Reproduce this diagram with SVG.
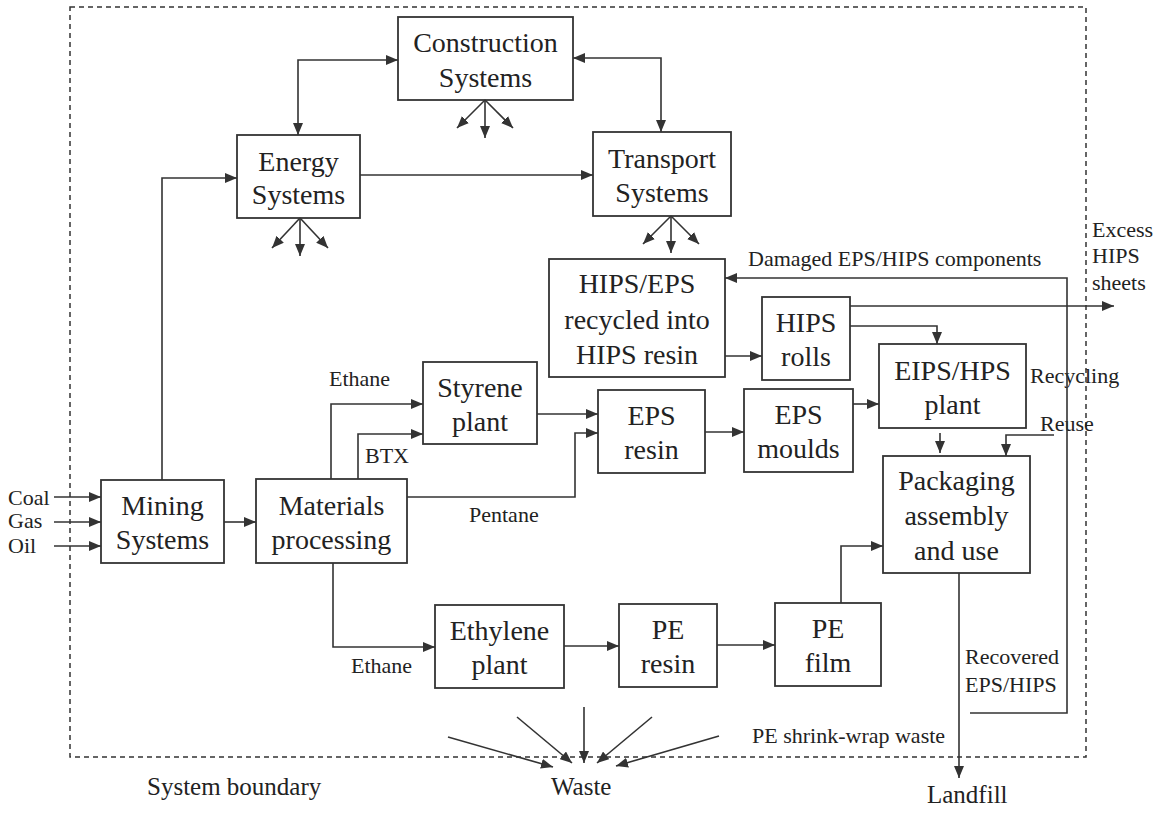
<svg xmlns="http://www.w3.org/2000/svg" width="1167" height="822" viewBox="0 0 1167 822">
<style>
.box{fill:none;stroke:#333;stroke-width:1.8}
.n{font-family:"Liberation Serif","Times New Roman",serif;font-size:28px;fill:#222;text-anchor:middle}
.l{font-family:"Liberation Serif","Times New Roman",serif;font-size:22px;fill:#222}
.b{font-family:"Liberation Serif","Times New Roman",serif;font-size:25px;fill:#222}
.c{fill:none;stroke:#333;stroke-width:1.6}
.a{marker-end:url(#ah)}
.d{marker-start:url(#ah);marker-end:url(#ah)}
</style>
<defs>
<marker id="ah" viewBox="0 0 12 10" refX="12" refY="5" markerWidth="12" markerHeight="10" markerUnits="userSpaceOnUse" orient="auto-start-reverse"><path d="M0,0 L12,5 L0,10 z" fill="#333"/></marker>
</defs>
<rect width="1167" height="822" fill="#fff"/>
<g id="boundary">
<rect x="70" y="7" width="1016" height="750" fill="none" stroke="#333" stroke-width="1.5" stroke-dasharray="5,4"/>
<text class="b" x="147" y="795">System boundary</text>
</g>
<g id="construction"><rect class="box" x="398" y="17" width="175" height="83"/><text class="n" x="485.5" y="52">Construction</text><text class="n" x="485.5" y="87">Systems</text></g>
<g id="energy"><rect class="box" x="237" y="135" width="123" height="83"/><text class="n" x="298.5" y="171">Energy</text><text class="n" x="298.5" y="204">Systems</text></g>
<g id="transport"><rect class="box" x="593" y="132" width="138" height="84"/><text class="n" x="662" y="168">Transport</text><text class="n" x="662" y="202">Systems</text></g>
<g id="hipseps"><rect class="box" x="549" y="259" width="176" height="118"/><text class="n" x="637" y="293">HIPS/EPS</text><text class="n" x="637" y="329">recycled into</text><text class="n" x="637" y="364">HIPS resin</text></g>
<g id="hipsrolls"><rect class="box" x="762" y="297" width="88" height="83"/><text class="n" x="806" y="332">HIPS</text><text class="n" x="806" y="366">rolls</text></g>
<g id="eipsplant"><rect class="box" x="879" y="344" width="147" height="84"/><text class="n" x="952.5" y="380">EIPS/HPS</text><text class="n" x="952.5" y="414">plant</text></g>
<g id="styrene"><rect class="box" x="423" y="362" width="114" height="82"/><text class="n" x="480" y="397">Styrene</text><text class="n" x="480" y="431">plant</text></g>
<g id="epsresin"><rect class="box" x="598" y="390" width="107" height="83"/><text class="n" x="651.5" y="425">EPS</text><text class="n" x="651.5" y="459">resin</text></g>
<g id="epsmoulds"><rect class="box" x="744" y="389" width="109" height="83"/><text class="n" x="798.5" y="424">EPS</text><text class="n" x="798.5" y="458">moulds</text></g>
<g id="packaging"><rect class="box" x="883" y="456" width="147" height="117"/><text class="n" x="956.5" y="490">Packaging</text><text class="n" x="956.5" y="525">assembly</text><text class="n" x="956.5" y="560">and use</text></g>
<g id="mining"><rect class="box" x="101" y="480" width="123" height="83"/><text class="n" x="162.5" y="515">Mining</text><text class="n" x="162.5" y="549">Systems</text></g>
<g id="materials"><rect class="box" x="256" y="479" width="151" height="84"/><text class="n" x="331.5" y="515">Materials</text><text class="n" x="331.5" y="549">processing</text></g>
<g id="ethylene"><rect class="box" x="435" y="605" width="129" height="83"/><text class="n" x="499.5" y="640">Ethylene</text><text class="n" x="499.5" y="674">plant</text></g>
<g id="peresin"><rect class="box" x="619" y="604" width="98" height="83"/><text class="n" x="668" y="639">PE</text><text class="n" x="668" y="673">resin</text></g>
<g id="pefilm"><rect class="box" x="775" y="603" width="106" height="83"/><text class="n" x="828" y="638">PE</text><text class="n" x="828" y="672">film</text></g>
<g id="labels">
<text class="l" x="8" y="505">Coal</text>
<text class="l" x="8" y="528">Gas</text>
<text class="l" x="8" y="553">Oil</text>
<text class="l" x="329" y="386">Ethane</text>
<text class="l" x="365" y="463">BTX</text>
<text class="l" x="469" y="522">Pentane</text>
<text class="l" x="351" y="673">Ethane</text>
<text class="l" x="748" y="266">Damaged EPS/HIPS components</text>
<text class="l" x="1092" y="237">Excess</text>
<text class="l" x="1092" y="263">HIPS</text>
<text class="l" x="1092" y="290">sheets</text>
<text class="l" x="1030" y="383">Recycling</text>
<text class="l" x="1040" y="431">Reuse</text>
<text class="l" x="965" y="664">Recovered</text>
<text class="l" x="965" y="692">EPS/HIPS</text>
<text class="l" x="752" y="743">PE shrink-wrap waste</text>
<text class="b" x="551" y="795">Waste</text>
<text class="b" x="927" y="803">Landfill</text>
</g>
<g id="connectors" class="c">
<path class="d" d="M298,135 L298,60 L398,60"/>
<path class="d" d="M573,58 L661,58 L661,132"/>
<path class="a" d="M485,100 L485,138"/>
<path class="a" d="M485,100 L457,128"/>
<path class="a" d="M485,100 L513,128"/>
<path class="a" d="M300,218 L300,256"/>
<path class="a" d="M300,218 L272,248"/>
<path class="a" d="M300,218 L328,248"/>
<path class="a" d="M671,216 L671,253"/>
<path class="a" d="M671,216 L643,244"/>
<path class="a" d="M671,216 L699,244"/>
<path class="a" d="M360,175 L593,175"/>
<path class="a" d="M162,480 L162,178 L237,178"/>
<path class="a" d="M54,497 L101,497"/>
<path class="a" d="M54,522 L101,522"/>
<path class="a" d="M54,546 L101,546"/>
<path class="a" d="M224,522 L256,522"/>
<path class="a" d="M331,479 L331,404 L423,404"/>
<path class="a" d="M358,479 L358,434 L423,434"/>
<path class="a" d="M407,497 L575,497 L575,433 L598,433"/>
<path class="a" d="M537,414 L598,414"/>
<path class="a" d="M705,432 L744,432"/>
<path class="a" d="M853,404 L879,404"/>
<path class="a" d="M725,356 L762,356"/>
<path class="a" d="M850,306 L1114,306"/>
<path class="a" d="M850,326 L937,326 L937,344"/>
<path class="a" d="M940,433 L940,453"/>
<path class="a" d="M1054,435 L1006,435 L1006,456"/>
<path class="a" d="M970,713 L1067,713 L1067,278 L725,278"/>
<path class="a" d="M959,573 L959,778"/>
<path class="a" d="M333,563 L333,647 L435,647"/>
<path class="a" d="M564,646 L619,646"/>
<path class="a" d="M717,645 L775,645"/>
<path class="a" d="M841,603 L841,546 L883,546"/>
<path class="a" d="M448,737 L553,767"/>
<path class="a" d="M517,717 L572,763"/>
<path class="a" d="M584,707 L584,763"/>
<path class="a" d="M652,717 L597,763"/>
<path class="a" d="M719,736 L616,766"/>
</g>
</svg>
